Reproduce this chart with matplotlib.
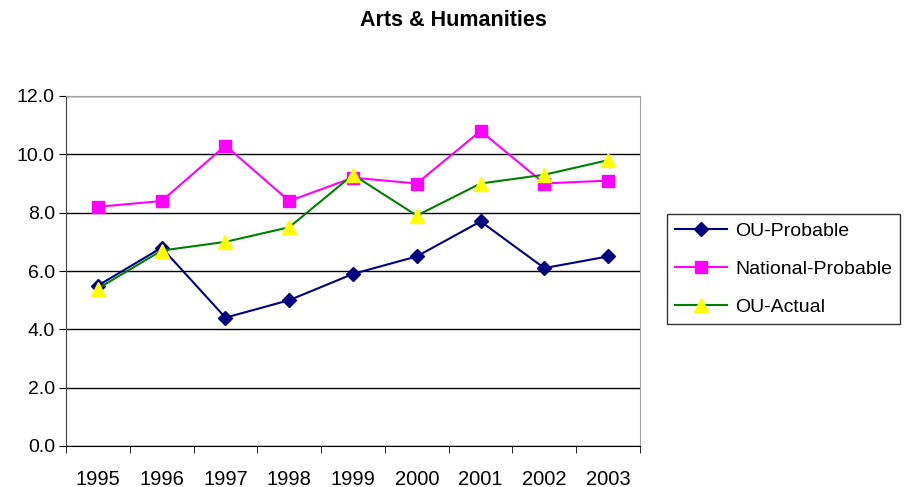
import matplotlib.pyplot as plt
import numpy as np

plt.rcParams['font.family'] = ['Liberation Sans', 'DejaVu Sans']

years = ['1995', '1996', '1997', '1998', '1999', '2000', '2001', '2002', '2003']
ou_probable = [5.5, 6.8, 4.4, 5.0, 5.9, 6.5, 7.7, 6.1, 6.5]
national_probable = [8.2, 8.4, 10.3, 8.4, 9.2, 9.0, 10.8, 9.0, 9.1]
ou_actual = [5.4, 6.7, 7.0, 7.5, 9.3, 7.9, 9.0, 9.3, 9.8]

fig = plt.figure(figsize=(9.13, 4.87), dpi=100)
ax = fig.add_axes([66/913, 41/487, 574/913, 350/487])

x = np.arange(len(years))
ax.plot(x, ou_probable, color='#000080', marker='D', markersize=7,
        linewidth=1.5, label='OU-Probable')
ax.plot(x, national_probable, color='#FF00FF', marker='s', markersize=8.5,
        linewidth=1.5, label='National-Probable')
ax.plot(x, ou_actual, color='#008000', marker='^', markersize=10,
        markerfacecolor='#FFFF00', markeredgecolor='#FFFF00',
        linewidth=1.5, label='OU-Actual')

# Set axis ranges and ticks
ax.set_xlim(-0.5, len(years) - 0.5)
ax.set_ylim(0, 12)
ax.set_yticks(np.arange(0, 12.1, 2))
ax.set_yticklabels(['%.1f' % v for v in np.arange(0, 12.1, 2)])
ax.set_xticks(x)
ax.set_xticklabels(years)
ax.set_xticks(np.arange(-0.5, len(years), 1), minor=True)
ax.tick_params(axis='x', which='major', length=0, labelsize=14.5, pad=17)
ax.tick_params(axis='x', which='minor', length=5, direction='out', color='black')
ax.tick_params(axis='y', labelsize=14, length=5, direction='out', pad=3)

ax.grid(axis='y', color='black', linewidth=1)
ax.set_axisbelow(True)
ax.spines['top'].set_color('#A0A0A0')
ax.spines['right'].set_color('#A0A0A0')
ax.spines['left'].set_color('#404040')
ax.spines['bottom'].set_color('black')

fig.text(453/913, 1 - 21/487, 'Arts & Humanities', ha='center', va='center',
         fontsize=15.5, fontweight='bold')

leg = fig.legend(loc='center', bbox_to_anchor=(783.5/913, 1 - 269/487),
                 fontsize=14, frameon=True, fancybox=False, edgecolor='black',
                 handlelength=2.7, handletextpad=0.4, labelspacing=1.05,
                 borderpad=0.4, borderaxespad=0)
leg.get_frame().set_linewidth(1)

fig.savefig('out.png', dpi=100)
